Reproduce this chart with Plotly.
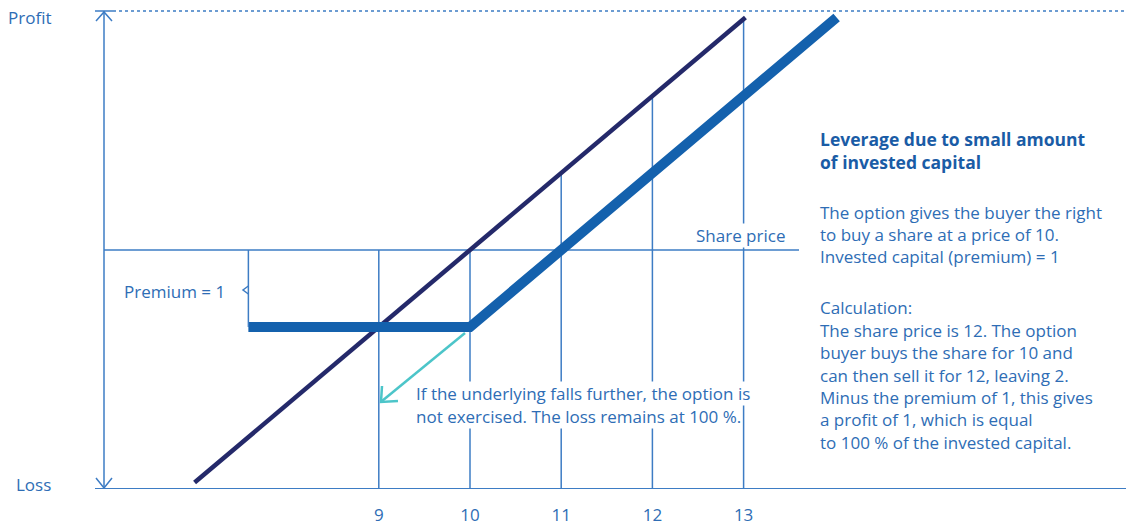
import plotly.graph_objects as go

# ---------------- data ----------------
tick_values = [9, 10, 11, 12, 13]
tick_labels = ["9", "10", "11", "12", "13"]

# share (underlying) profit/loss line
share_price = [6.98, 13.02]
share_profit = [-3.02, 3.02]

# call option profit/loss line (strike 10, premium 1)
option_price = [7.57, 10.0, 14.02]
option_profit = [-1.0, -1.0, 3.02]

# vertical guide lines: price and the profit level where they start
grid_price = [9, 10, 11, 12, 13]
grid_top = [0, 0, 1, 2, 3]

premium_price = 7.57
premium_value = -1.0

# ---------------- layout constants ----------------
W, H = 1126, 527
PLOT_H = 489                      # plot area height (bottom axis line)
X_ZERO_PX, X_UNIT = 470, 91.2     # x=10 pixel, px per unit
Y_ZERO_PX, Y_UNIT = 250, 77.0     # y=0 pixel, px per unit

x_min = 10 - X_ZERO_PX / X_UNIT
x_max = 10 + (W - X_ZERO_PX) / X_UNIT
y_max = Y_ZERO_PX / Y_UNIT
y_min = -(PLOT_H - Y_ZERO_PX) / Y_UNIT

TEXT = "#2e6db5"
HEAD = "#1a5ca6"
LINE = "#3d7cc4"
NAVY = "#24296a"
BLUE = "#1461ad"
TEAL = "#4cc5c9"
FONT = "Open Sans"
FS = 17


def dx(px):
    return 10 + (px - X_ZERO_PX) / X_UNIT


def dy(py):
    return (Y_ZERO_PX - py) / Y_UNIT


fig = go.Figure()

# vertical guide lines
gx, gy = [], []
for p, t in zip(grid_price, grid_top):
    gx += [p, p, None]
    gy += [y_min, t, None]
fig.add_trace(go.Scatter(x=gx, y=gy, mode="lines",
                         line=dict(color=LINE, width=1.5),
                         hoverinfo="skip", showlegend=False))

# share line
fig.add_trace(go.Scatter(x=share_price, y=share_profit, mode="lines",
                         line=dict(color=NAVY, width=4.5),
                         hoverinfo="skip", showlegend=False))

# option line
fig.add_trace(go.Scatter(x=option_price, y=option_profit, mode="lines",
                         line=dict(color=BLUE, width=10),
                         hoverinfo="skip", showlegend=False))

shapes = []
# zero (share price) line
shapes.append(dict(type="line", xref="x", yref="y", x0=dx(104), x1=dx(799), y0=0, y1=0,
                   line=dict(color=LINE, width=1.5), layer="below"))
# vertical axis
shapes.append(dict(type="line", xref="x", yref="y", x0=dx(104), x1=dx(104), y0=y_min, y1=dy(11),
                   line=dict(color=LINE, width=1.5)))
# top cap + arrow
shapes.append(dict(type="line", xref="x", yref="y", x0=dx(95), x1=dx(113), y0=dy(11), y1=dy(11),
                   line=dict(color=LINE, width=1.5)))
shapes.append(dict(type="path", xref="x", yref="y",
                   path=f"M {dx(96)},{dy(21)} L {dx(104)},{dy(12)} L {dx(112)},{dy(21)}",
                   line=dict(color=LINE, width=1.5)))
# bottom arrow
shapes.append(dict(type="path", xref="x", yref="y",
                   path=f"M {dx(96)},{dy(478)} L {dx(104)},{dy(488)} L {dx(112)},{dy(478)}",
                   line=dict(color=LINE, width=1.5)))
# bottom axis
shapes.append(dict(type="line", xref="x", yref="y", x0=dx(95), x1=x_max, y0=y_min, y1=y_min,
                   line=dict(color=LINE, width=2)))
# top dotted line
shapes.append(dict(type="line", xref="x", yref="y", x0=dx(113), x1=x_max, y0=dy(11), y1=dy(11),
                   line=dict(color=LINE, width=1.5, dash="dot")))
# premium bracket
shapes.append(dict(type="line", xref="x", yref="y", x0=premium_price, x1=premium_price,
                   y0=0, y1=premium_value, line=dict(color=LINE, width=1.5)))
shapes.append(dict(type="path", xref="x", yref="y",
                   path=f"M {premium_price},{dy(286)} L {dx(243)},{dy(290)} L {premium_price},{dy(294)}",
                   line=dict(color=LINE, width=1.5)))
# teal arrow
shapes.append(dict(type="line", xref="x", yref="y", x0=dx(465), y0=dy(333), x1=dx(382), y1=dy(401),
                   line=dict(color=TEAL, width=2.5)))
shapes.append(dict(type="path", xref="x", yref="y",
                   path=f"M {dx(382)},{dy(386)} L {dx(381)},{dy(402)} L {dx(398)},{dy(401)}",
                   line=dict(color=TEAL, width=2.5)))

ann = []


def text(s, px, py, anchor="left", size=FS, color=TEXT, bold=False, bg=None):
    a = dict(x=dx(px), y=dy(py), xref="x", yref="y", text=(f"<b>{s}</b>" if bold else s),
             showarrow=False, xanchor=anchor, yanchor="middle",
             font=dict(family=FONT, size=size, color=color))
    if bg:
        a["bgcolor"] = bg
        a["borderpad"] = 0
    ann.append(a)


text("Profit", 53, 17, anchor="right")
text("Loss", 53, 484, anchor="right")
text("Premium = 1", 227, 291, anchor="right")
text("Share price", 786, 235, anchor="right", bg="white")
text("If the underlying falls further, the option is", 415, 393, bg="white")
text("not exercised. The loss remains at 100 %.", 415, 416, bg="white")

text("Leverage due to small amount", 818, 139, bold=True, color=HEAD, size=17.5)
text("of invested capital", 818, 162, bold=True, color=HEAD, size=17.5)
body = [
    ("The option gives the buyer the right", 212),
    ("to buy a share at a price of 10.", 234),
    ("Invested capital (premium) = 1", 256),
    ("Calculation:", 307),
    ("The share price is 12. The option", 330),
    ("buyer buys the share for 10 and", 352),
    ("can then sell it for 12, leaving 2.", 375),
    ("Minus the premium of 1, this gives", 397),
    ("a profit of 1, which is equal", 419),
    ("to 100 % of the invested capital.", 442),
]
for s, py in body:
    text(s, 818, py)

fig.update_layout(
    width=W, height=H,
    margin=dict(l=0, r=0, t=0, b=H - PLOT_H),
    paper_bgcolor="white", plot_bgcolor="white",
    showlegend=False,
    shapes=shapes, annotations=ann,
    xaxis=dict(range=[x_min, x_max], showgrid=False, zeroline=False, showline=False,
               tickvals=tick_values, ticktext=tick_labels, ticks="",
               tickfont=dict(family=FONT, size=FS, color=TEXT),
               ticklabelstandoff=14, fixedrange=True),
    yaxis=dict(range=[y_min, y_max], showgrid=False, zeroline=False, showline=False,
               showticklabels=False, fixedrange=True),
)

fig.write_html("out.html", config={"displayModeBar": False},
               post_script="document.body.style.margin='0';document.body.style.overflow='hidden';")
